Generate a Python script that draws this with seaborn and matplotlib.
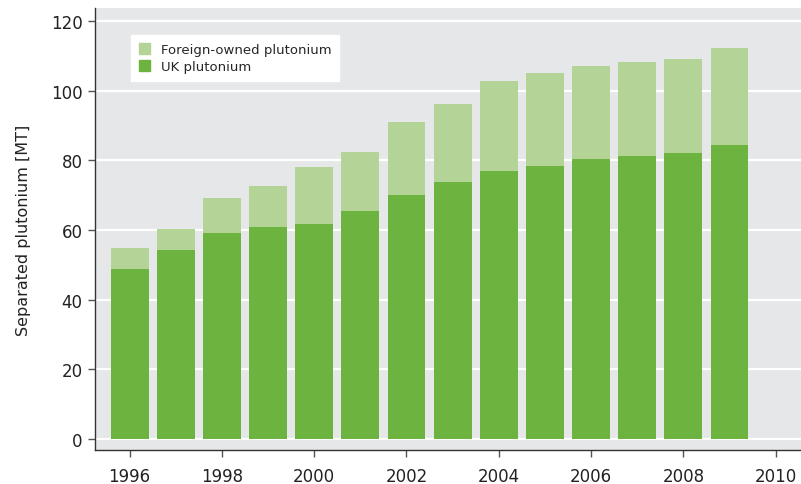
import numpy as np
import pandas as pd
import matplotlib.pyplot as plt
import matplotlib.patches as mpatches
import seaborn as sns

# Data
years = [1996, 1997, 1998, 1999, 2000, 2001, 2002, 2003, 2004, 2005, 2006, 2007, 2008, 2009]
uk_pu = [48.8, 54.3, 59.1, 60.9, 61.7, 65.5, 70.1, 73.8, 76.9, 78.4, 80.4, 81.3, 82.1, 84.4]
total_pu = [54.8, 60.3, 69.2, 72.6, 78.1, 82.4, 91.0, 96.2, 102.8, 105.1, 107.1, 108.2, 109.1, 112.3]

light_green = '#b3d397'
dark_green = '#6db33f'

df = pd.DataFrame({'year': years, 'uk': uk_pu, 'total': total_pu})

sns.set_style('darkgrid', {'axes.facecolor': '#e6e7e9', 'grid.color': 'white'})
plt.rcParams['font.family'] = ['Liberation Sans Narrow', 'DejaVu Sans Condensed', 'DejaVu Sans']

fig = plt.figure(figsize=(8.01, 4.85), dpi=100)
ax = fig.add_axes([0.1186, 0.0701, 0.8814, 0.9113])

# total height in light green, UK share drawn over it
sns.barplot(data=df, x='year', y='total', color=light_green, native_scale=True,
            width=0.82, saturation=1, linewidth=0, ax=ax)
sns.barplot(data=df, x='year', y='uk', color=dark_green, native_scale=True,
            width=0.82, saturation=1, linewidth=0, ax=ax)

ax.set_xlim(1995.25, 2010.55)
ax.set_ylim(-3.2, 123.7)
ax.set_xticks(range(1996, 2011, 2))
ax.set_yticks(range(0, 121, 20))
ax.grid(axis='x', visible=False)
ax.grid(axis='y', color='white', linewidth=1.6)
ax.set_axisbelow(True)

for side in ['top', 'right']:
    ax.spines[side].set_visible(False)
for side in ['left', 'bottom']:
    ax.spines[side].set_visible(True)
    ax.spines[side].set_color('#333333')
    ax.spines[side].set_linewidth(1.0)

ax.tick_params(axis='both', which='major', direction='out', length=5, width=1,
               color='#555555', labelsize=12, labelcolor='#222222', bottom=True, left=True)
ax.tick_params(axis='x', pad=7)
ax.tick_params(axis='y', pad=4)

ax.set_xlabel('')
ax.set_ylabel('Separated plutonium [MT]', fontsize=11.5, color='#222222', labelpad=14)

handles = [mpatches.Patch(color=light_green, label='Foreign-owned plutonium'),
           mpatches.Patch(color=dark_green, label='UK plutonium')]
leg = ax.legend(handles=handles, loc='upper left', bbox_to_anchor=(0.051, 0.939),
                frameon=True, fancybox=False, fontsize=9.5, handlelength=0.85,
                handleheight=0.85, handletextpad=0.8, labelspacing=0.3,
                borderpad=0.6, borderaxespad=0, framealpha=1)
leg.get_frame().set_facecolor('white')
leg.get_frame().set_edgecolor('white')

fig.savefig('out.png', dpi=100)
